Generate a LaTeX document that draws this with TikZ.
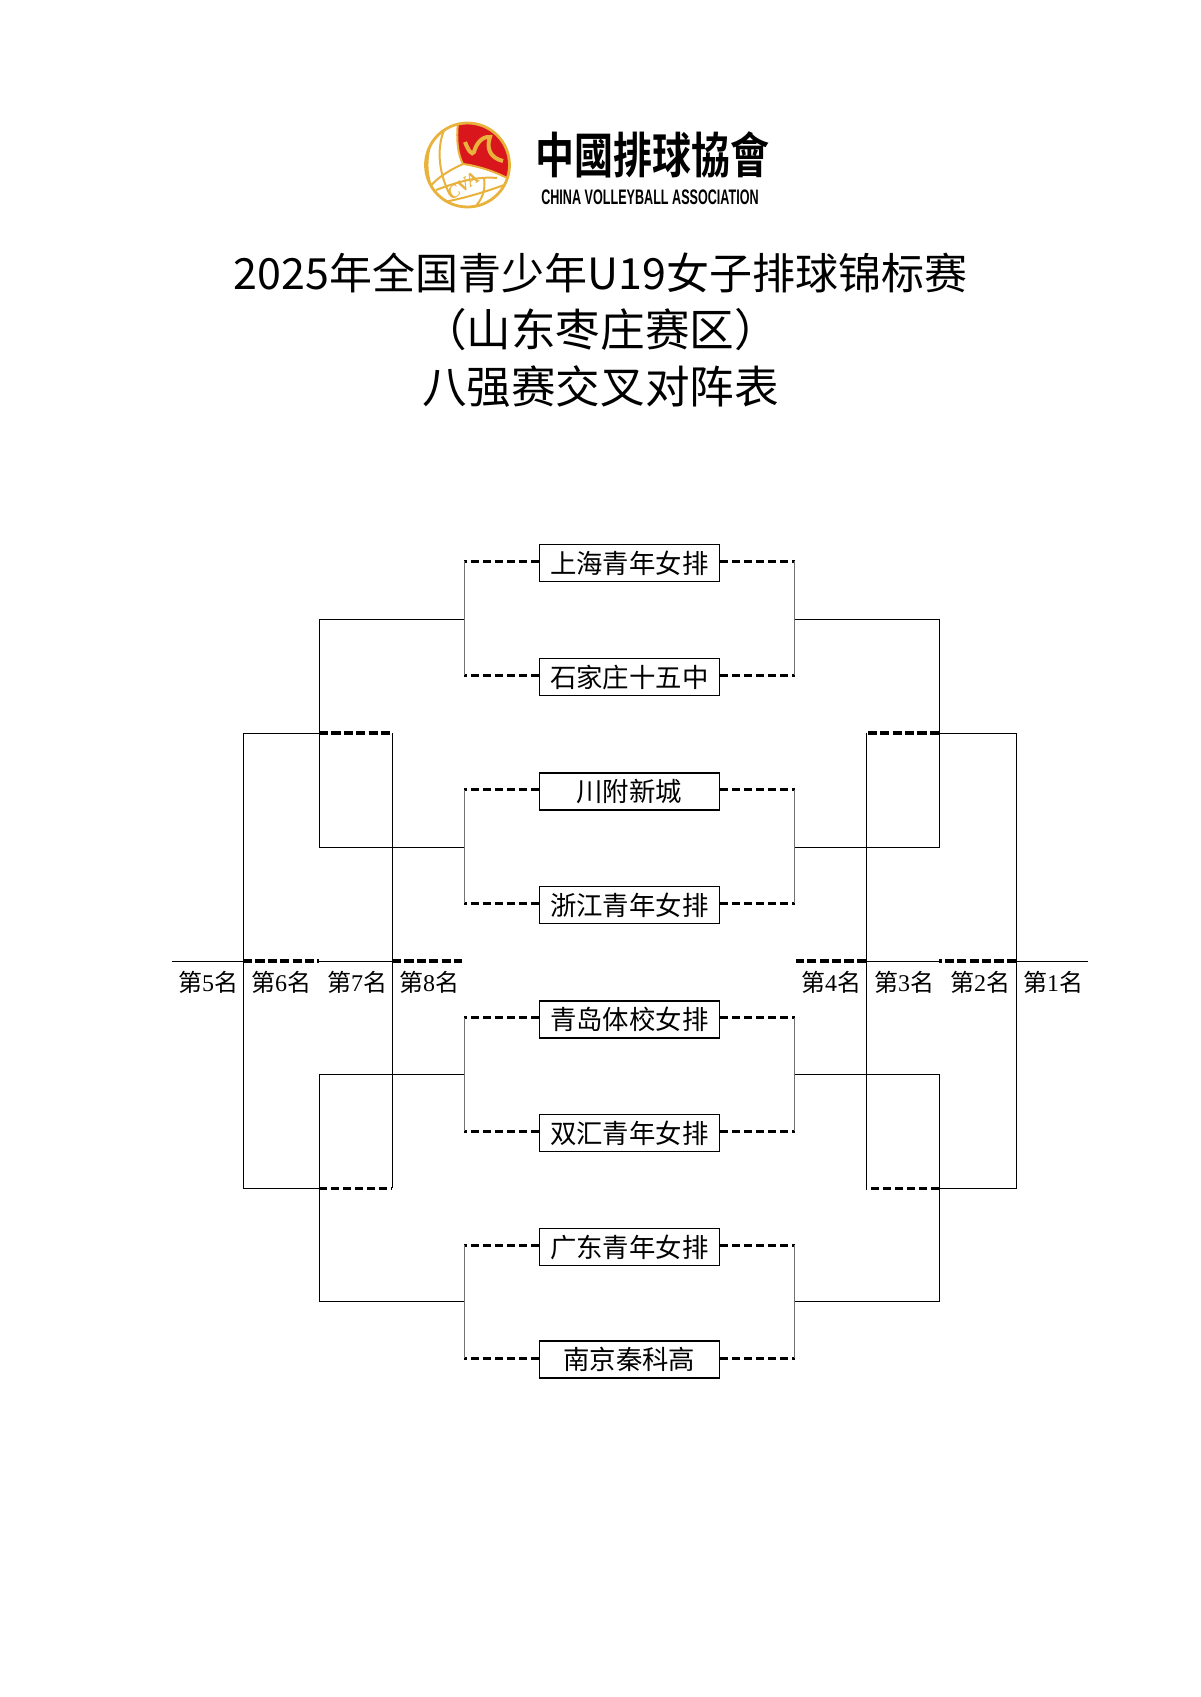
\documentclass[tikz,border=0pt]{standalone}
\usepackage{fontspec}
\usepackage{graphicx}
\setmainfont{Liberation Serif}
\newfontfamily\cjk{Noto Sans CJK SC}
\newfontfamily\cjktc[BoldFont={Noto Sans CJK TC Bold}]{Noto Sans CJK TC}
\newfontfamily\latinsans{Liberation Sans}
\definecolor{cvagold}{HTML}{E8B23C}
\definecolor{cvared}{HTML}{D9161C}
\newcommand{\rankname}[1]{{\cjk 第}#1{\cjk 名}}
\usetikzlibrary{calc}

\begin{document}
\begin{tikzpicture}[
    x=0.5pt,y=-0.5pt,
    titleline/.style={font=\cjk\fontsize{22.3}{24}\selectfont,inner sep=0pt},
    teambox/.style={draw=black,line width=0.8pt,fill=white,minimum width=90pt,minimum height=18.5pt,inner sep=0pt,font=\cjk\fontsize{13.2}{14}\selectfont},
    ranklabel/.style={inner sep=0pt,font=\fontsize{12}{14}\selectfont},
    dashline/.style={line width=1.5pt,black,dash pattern=on 4pt off 2pt},
    heavydash/.style={line width=1.6pt,black,dash pattern=on 4.6pt off 1.6pt},
    spine/.style={line width=0.5pt,black!55},
    solidline/.style={line width=0.5pt,black},
    panel/.style={line width=1pt,cvagold}
]
\useasboundingbox (0,0) rectangle (1200,1697);

% Logo
\begin{scope}
\clip (467.5,165) circle (42);
\fill[cvared] (458,120) .. controls (456,140) and (458,155) .. (463,164) .. controls (478,166) and (498,172) .. (514,182) -- (520,120) -- cycle;
\draw[panel] (458,122) .. controls (456,140) and (458,155) .. (463,164) .. controls (478,166) and (498,172) .. (514,182);
\draw[panel] (463,164) .. controls (445,172) and (432,182) .. (426,192);
\draw[panel] (446,126) .. controls (436,145) and (438,172) .. (450,195);
\draw[panel] (433,137) .. controls (426,155) and (426,172) .. (431,186);
\draw[panel] (436,190) .. controls (455,183) and (475,176) .. (497,178);
\draw[panel] (444,202) .. controls (465,198) and (485,192) .. (504,185);
\draw[panel] (484,178) .. controls (486,190) and (482,200) .. (474,208);
\draw[line width=2pt,cvagold] (465,142) .. controls (468,150) and (472,156) .. (474,152) .. controls (476,144) and (482,136) .. (490,137) .. controls (486,148) and (490,158) .. (503,161);
\end{scope}
\draw[line width=1.4pt,cvagold] (467.5,165) circle (42);
\node[rotate=35,text=cvagold,inner sep=0pt,font=\itshape\bfseries\fontsize{9}{10}\selectfont] (cvatext) at (463,186) {CVA};
\node[inner sep=0pt,font=\cjktc\bfseries\fontsize{19.5}{21}\selectfont] (cvaname) at (652,155) {\scalebox{1}[1.25]{中國排球協會}};
\node[inner sep=0pt,font=\latinsans\bfseries\fontsize{10.5}{12}\selectfont] (cvaeng) at (650,197) {\scalebox{0.6}[1]{CHINA VOLLEYBALL ASSOCIATION}};

% Title
\node[titleline,font=\cjk\fontsize{21.5}{24}\selectfont] (title1) at (600.5,273) {2025年全国青少年U19女子排球锦标赛};
\node[titleline] (title2) at (600.5,330) {（山东枣庄赛区）};
\node[titleline] (title3) at (600.5,387) {八强赛交叉对阵表};

% Teams
\node[teambox] (shanghai) at (629.3,563) {上海青年女排};
\node[teambox] (shijiazhuang) at (629.3,677) {石家庄十五中};
\node[teambox] (chuanfu) at (629.3,791.5) {川附新城};
\node[teambox] (zhejiang) at (629.3,905) {浙江青年女排};
\node[teambox] (qingdao) at (629.3,1019.5) {青岛体校女排};
\node[teambox] (shuanghui) at (629.3,1133) {双汇青年女排};
\node[teambox] (guangdong) at (629.3,1247) {广东青年女排};
\node[teambox] (nanjing) at (629.3,1359.5) {南京秦科高};

% Left half
\coordinate (lt1) at (464,561);
\coordinate (lt2) at (464,675);
\coordinate (lt3) at (464,789.5);
\coordinate (lt4) at (464,903);
\coordinate (lt5) at (464,1017.5);
\coordinate (lt6) at (464,1131);
\coordinate (lt7) at (464,1245);
\coordinate (lt8) at (464,1358);
\coordinate (lq1) at (464,619);
\coordinate (lq2) at (464,847);
\coordinate (lq3) at (464,1074);
\coordinate (lq4) at (464,1301);
\coordinate (ls1) at (319,733);
\coordinate (ls2) at (319,1188);
\coordinate (lo1) at (243,733);
\coordinate (lo2) at (243,1188);
\coordinate (li1) at (392,733);
\coordinate (li2) at (392,1188);
\coordinate (lr0) at (172,961);
\coordinate (lr1) at (462,961);
\draw[dashline] (lt1 -| shanghai.west) -- (lt1);
\draw[dashline] (lt2 -| shijiazhuang.west) -- (lt2);
\draw[dashline] (lt3 -| chuanfu.west) -- (lt3);
\draw[dashline] (lt4 -| zhejiang.west) -- (lt4);
\draw[dashline] (lt5 -| qingdao.west) -- (lt5);
\draw[dashline] (lt6 -| shuanghui.west) -- (lt6);
\draw[dashline] (lt7 -| guangdong.west) -- (lt7);
\draw[dashline] (lt8 -| nanjing.west) -- (lt8);
\draw[spine] (lt1) -- (lt2);
\draw[spine] (lt3) -- (lt4);
\draw[spine] (lt5) -- (lt6);
\draw[spine] (lt7) -- (lt8);
\draw[solidline] (lq1) -- (lq1 -| ls1) -- (lq2 -| ls1) -- (lq2);
\draw[solidline] (lq3) -- (lq3 -| ls2) -- (lq4 -| ls2) -- (lq4);
\draw[solidline] (ls1) -- (lo1) -- (lo2) -- (ls2);
\draw[solidline] (li1) -- (li2);
\draw[heavydash] (ls1) -- (li1);
\draw[dashline] (ls2) -- (li2);
\draw[solidline] (lr0) -- (lr0 -| lo1);
\draw[heavydash] (lr0 -| lo1) -- (lr0 -| ls1);
\draw[solidline] (lr0 -| ls1) -- (lr0 -| li1);
\draw[heavydash] (lr0 -| li1) -- (lr1);
\node[ranklabel] (rank5) at (208,982) {\rankname{5}};
\node[ranklabel] (rank6) at (281,982) {\rankname{6}};
\node[ranklabel] (rank7) at (357,982) {\rankname{7}};
\node[ranklabel] (rank8) at (429,982) {\rankname{8}};

% Right half
\coordinate (rt1) at (794.5,561);
\coordinate (rt2) at (794.5,675);
\coordinate (rt3) at (794.5,789.5);
\coordinate (rt4) at (794.5,903);
\coordinate (rt5) at (794.5,1017.5);
\coordinate (rt6) at (794.5,1131);
\coordinate (rt7) at (794.5,1245);
\coordinate (rt8) at (794.5,1358);
\coordinate (rq1) at (794.5,619);
\coordinate (rq2) at (794.5,847);
\coordinate (rq3) at (794.5,1074);
\coordinate (rq4) at (794.5,1301);
\coordinate (rs1) at (939,733);
\coordinate (rs2) at (939,1188);
\coordinate (ro1) at (1016,733);
\coordinate (ro2) at (1016,1188);
\coordinate (ri1) at (866,733);
\coordinate (ri2) at (866,1188);
\coordinate (rr0) at (1088,961);
\coordinate (rr1) at (796,961);
\draw[dashline] (rt1 -| shanghai.east) -- (rt1);
\draw[dashline] (rt2 -| shijiazhuang.east) -- (rt2);
\draw[dashline] (rt3 -| chuanfu.east) -- (rt3);
\draw[dashline] (rt4 -| zhejiang.east) -- (rt4);
\draw[dashline] (rt5 -| qingdao.east) -- (rt5);
\draw[dashline] (rt6 -| shuanghui.east) -- (rt6);
\draw[dashline] (rt7 -| guangdong.east) -- (rt7);
\draw[dashline] (rt8 -| nanjing.east) -- (rt8);
\draw[spine] (rt1) -- (rt2);
\draw[spine] (rt3) -- (rt4);
\draw[spine] (rt5) -- (rt6);
\draw[spine] (rt7) -- (rt8);
\draw[solidline] (rq1) -- (rq1 -| rs1) -- (rq2 -| rs1) -- (rq2);
\draw[solidline] (rq3) -- (rq3 -| rs2) -- (rq4 -| rs2) -- (rq4);
\draw[solidline] (rs1) -- (ro1) -- (ro2) -- (rs2);
\draw[solidline] (ri1) -- (ri2);
\draw[heavydash] (rs1) -- (ri1);
\draw[dashline] (rs2) -- (ri2);
\draw[solidline] (rr0) -- (rr0 -| ro1);
\draw[heavydash] (rr0 -| ro1) -- (rr0 -| rs1);
\draw[solidline] (rr0 -| rs1) -- (rr0 -| ri1);
\draw[heavydash] (rr0 -| ri1) -- (rr1);
\node[ranklabel] (rank4) at (831,982) {\rankname{4}};
\node[ranklabel] (rank3) at (904,982) {\rankname{3}};
\node[ranklabel] (rank2) at (980,982) {\rankname{2}};
\node[ranklabel] (rank1) at (1053,982) {\rankname{1}};
\end{tikzpicture}
\end{document}
